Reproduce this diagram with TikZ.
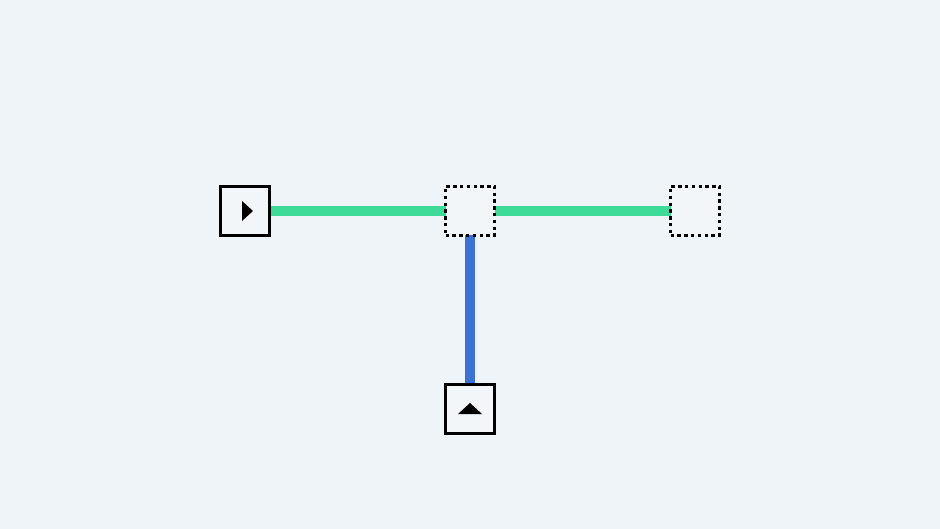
\documentclass[tikz,border=0pt]{standalone}
\usetikzlibrary{positioning}
\definecolor{bg}{HTML}{EFF4F8}
\definecolor{boxfill}{HTML}{F2F6F9}
\definecolor{greenln}{HTML}{3DDB97}
\definecolor{blueln}{HTML}{3A72D6}
\tikzset{
  solidbox/.style={draw=black, line width=2.8pt, fill=boxfill, minimum size=49pt, inner sep=0pt},
  dotbox/.style={draw=black, line width=2.8pt, dash pattern=on 3.4pt off 3.4pt, fill=boxfill, minimum size=49pt, inner sep=0pt},
  greenwire/.style={draw=greenln, line width=10.5pt},
  bluewire/.style={draw=blueln, line width=10pt},
  tri/.style={fill=black, draw=none}
}
\begin{document}
\begin{tikzpicture}[x=1pt,y=-1pt]
\fill[bg] (0,0) rectangle (940,529);
\useasboundingbox (0,0) rectangle (940,529);
\coordinate (pa) at (245,211);
\coordinate (pb) at (470,211);
\coordinate (pc) at (695,211);
\coordinate (pd) at (470,409);
\draw[greenwire] (pa) -- (pb);
\draw[greenwire] (pb) -- (pc);
\draw[bluewire] (pb) -- (pd);
\node[solidbox] (a) at (pa) {};
\node[dotbox] (b) at (pb) {};
\node[dotbox] (c) at (pc) {};
\node[solidbox] (d) at (pd) {};
\fill[tri] ([xshift=-3pt,yshift=10pt]a.center) -- ([xshift=-3pt,yshift=-10pt]a.center) -- ([xshift=8pt]a.center) -- cycle;
\fill[tri] ([xshift=-12pt,yshift=-5pt]d.center) -- ([xshift=12pt,yshift=-5pt]d.center) -- ([yshift=6pt]d.center) -- cycle;
\end{tikzpicture}
\end{document}
